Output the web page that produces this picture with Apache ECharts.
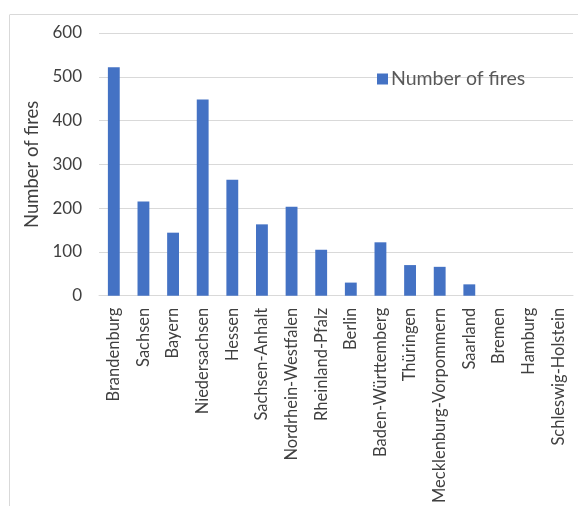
<!DOCTYPE html>
<html>
<head>
<meta charset="utf-8">
<script src="https://cdn.jsdelivr.net/npm/echarts@6/dist/echarts.min.js"></script>
<style>html,body{margin:0;padding:0;background:#fff}#c{width:578px;height:506px}</style>
</head>
<body>
<div id="c"></div>
<script>
const categories = ["Brandenburg","Sachsen","Bayern","Niedersachsen","Hessen","Sachsen-Anhalt","Nordrhein-Westfalen","Rheinland-Pfalz","Berlin","Baden-Württemberg","Thüringen","Mecklenburg-Vorpommern","Saarland","Bremen","Hamburg","Schleswig-Holstein"];
const fires = [522, 215, 144, 448, 265, 163, 203, 105, 30, 122, 70, 66, 26, 0, 0, 0];
const yTicks = [0, 100, 200, 300, 400, 500, 600];
const seriesName = "Number of fires";
const yAxisName = "Number of fires";

const FONT = "Lato";
const chart = echarts.init(document.getElementById('c'));
chart.setOption({
  animation: false,
  textStyle: { fontFamily: FONT },
  graphic: [
    { type: 'line', shape: { x1: 10, y1: 14.5, x2: 578, y2: 14.5 }, style: { stroke: '#d9d9d9', lineWidth: 1 } },
    { type: 'line', shape: { x1: 9.5, y1: 14.5, x2: 9.5, y2: 506 }, style: { stroke: '#d9d9d9', lineWidth: 1 } }
  ],
  legend: {
    left: 372, top: 64,
    itemWidth: 11, itemHeight: 11, itemGap: 10,
    icon: 'rect',
    textStyle: { fontFamily: FONT, fontSize: 19.5, color: '#595959', padding: [0, 0, 0, -2] },
    data: [seriesName]
  },
  grid: { left: 99, right: 5, top: 33, bottom: 209, containLabel: false },
  xAxis: {
    type: 'category',
    data: categories,
    axisLine: { lineStyle: { color: '#d9d9d9', width: 1 } },
    axisTick: { show: false },
    axisLabel: { rotate: 90, interval: 0, margin: 12, fontFamily: FONT, fontSize: 16.5, color: '#404040' }
  },
  yAxis: {
    type: 'value',
    min: yTicks[0], max: yTicks[yTicks.length - 1], interval: 100,
    name: yAxisName,
    nameLocation: 'middle',
    nameGap: 50,
    nameTextStyle: { fontFamily: FONT, fontSize: 18.5, color: '#404040' },
    axisLine: { show: false },
    axisTick: { show: false },
    splitLine: { lineStyle: { color: '#d9d9d9', width: 1 } },
    axisLabel: { margin: 17, fontFamily: FONT, fontSize: 17, color: '#404040' }
  },
  series: [{
    name: seriesName,
    type: 'bar',
    data: fires,
    barWidth: '40%',
    itemStyle: { color: '#4472C4' }
  }]
});
</script>
</body>
</html>
